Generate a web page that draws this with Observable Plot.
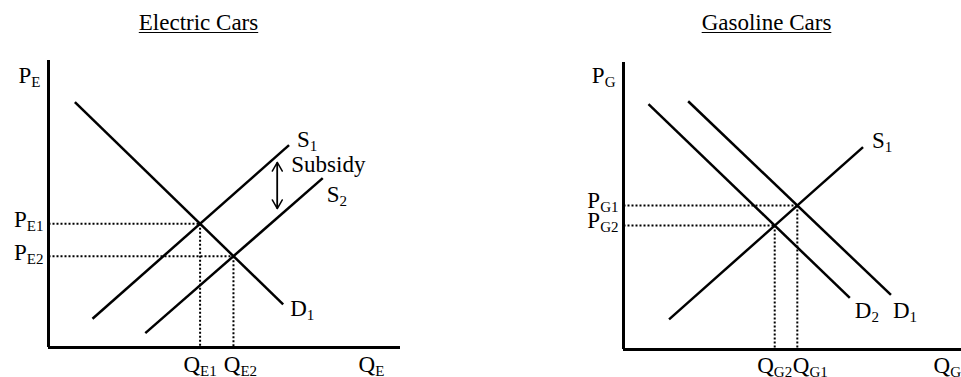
<!DOCTYPE html>
<html>
<head>
<meta charset="utf-8">
<script src="https://cdn.jsdelivr.net/npm/d3@7"></script>
<script src="https://cdn.jsdelivr.net/npm/@observablehq/plot@0.6"></script>
<style>
  html, body { margin: 0; padding: 0; background: #fff; }
  #chart { position: relative; width: 961px; height: 377px; overflow: hidden;
           font-family: "Liberation Serif", "Times New Roman", serif; color: #000; }
  #chart svg { position: absolute; top: 0; }
  .title { position: absolute; top: 11px; font-size: 23px; line-height: 23px;
           white-space: nowrap; transform: translateX(-50%);
           text-decoration: underline; text-decoration-thickness: 1.3px; text-underline-offset: 2px; }
</style>
</head>
<body>
<div id="chart"></div>
<script>
// ---- Electric cars: demand D1, supply before (S1) and after (S2) the subsidy
const electricTitle = "Electric Cars";
const electricCurves = ["D_1", "S_1", "S_2"];
const electricQStart = [0.9, 1.5, 3.3];
const electricPStart = [8.55, 1.0, 0.5];
const electricQEnd = [8.0, 8.2, 9.35];
const electricPEnd = [1.5, 7.05, 5.9];
const electricAxisLabels = ["P_E", "Q_E"];
const electricPriceTicks = ["P_E1", "P_E2"];
const electricQuantityTicks = ["Q_E1", "Q_E2"];

// Subsidy arrow between the two supply curves
const subsidyText = "Subsidy";
const subsidyQ = 7.8;
const subsidyPTop = 6.45;
const subsidyPBottom = 4.84;

// ---- Gasoline cars: demand falls from D1 to D2 along a fixed supply S1
const gasolineTitle = "Gasoline Cars";
const gasolineCurves = ["D_2", "D_1", "S_1"];
const gasolineQStart = [0.85, 2.2, 1.55];
const gasolinePStart = [8.55, 8.65, 1.05];
const gasolineQEnd = [7.7, 9.1, 8.15];
const gasolinePEnd = [1.8, 1.9, 7.05];
const gasolineAxisLabels = ["P_G", "Q_G"];
const gasolinePriceTicks = ["P_G1", "P_G2"];
const gasolineQuantityTicks = ["Q_G1", "Q_G2"];

const FONT = 23;

function segments(names, q1, p1, q2, p2) {
  return names.map((name, i) => ({name, q1: q1[i], p1: p1[i], q2: q2[i], p2: p2[i]}));
}

// Where two straight curves cross (the market equilibrium)
function crossing(a, b) {
  const ma = (a.p2 - a.p1) / (a.q2 - a.q1);
  const mb = (b.p2 - b.p1) / (b.q2 - b.q1);
  const q = (b.p1 - a.p1 + ma * a.q1 - mb * b.q1) / (ma - mb);
  return {q, p: a.p1 + ma * (q - a.q1)};
}

// Turn "P_E1" into P with a subscripted E1
function subscripts(svg) {
  const ns = "http://www.w3.org/2000/svg";
  svg.querySelectorAll("text").forEach((t) => {
    const s = t.textContent;
    const i = s.indexOf("_");
    if (i < 0) return;
    t.textContent = "";
    const base = document.createElementNS(ns, "tspan");
    base.textContent = s.slice(0, i);
    const sub = document.createElementNS(ns, "tspan");
    sub.textContent = s.slice(i + 1);
    sub.setAttribute("font-size", 15);
    sub.setAttribute("dy", 4);
    t.append(base, sub);
  });
  return svg;
}

const curveLabel = (rows, name, dx, dy) =>
  Plot.text(rows.filter((d) => d.name === name), {
    x: "q2", y: "p2", text: "name", textAnchor: "start", dx, dy, fontSize: FONT, fill: "black"
  });

const dotted = {stroke: "black", strokeWidth: 2, strokeDasharray: "2,2"};
const svgStyle = {fontFamily: '"Liberation Serif", "Times New Roman", serif', fontSize: FONT + "px",
                  color: "black", background: "transparent", overflow: "visible"};

function guideMarks(eqs) {
  return [
    Plot.link(eqs, {x1: () => 0, y1: "p", x2: "q", y2: "p", ...dotted}),
    Plot.link(eqs, {x1: "q", y1: "p", x2: "q", y2: () => 0, ...dotted})
  ];
}

const curveMarks = (rows) =>
  Plot.link(rows, {x1: "q1", y1: "p1", x2: "q2", y2: "p2", stroke: "black", strokeWidth: 2.5});

const axisMarks = [
  Plot.ruleX([0], {stroke: "black", strokeWidth: 3}),
  Plot.ruleY([0], {stroke: "black", strokeWidth: 3})
];

// ---- Left panel
const eRows = segments(electricCurves, electricQStart, electricPStart, electricQEnd, electricPEnd);
const eD1 = eRows.find((d) => d.name === "D_1");
const eEq = [crossing(eD1, eRows.find((d) => d.name === "S_1")),
             crossing(eD1, eRows.find((d) => d.name === "S_2"))]
  .map((e, i) => ({...e, pTick: electricPriceTicks[i], qTick: electricQuantityTicks[i]}));

const left = Plot.plot({
  width: 480, height: 377,
  marginLeft: 48, marginRight: 80, marginTop: 60, marginBottom: 30,
  x: {domain: [0, 12], axis: null},
  y: {domain: [0, 10], axis: null},
  style: svgStyle,
  marks: [
    ...guideMarks(eEq),
    curveMarks(eRows),
    Plot.arrow([{q: subsidyQ, a: subsidyPBottom, b: subsidyPTop}],
      {x1: "q", y1: "a", x2: "q", y2: "b", stroke: "black", strokeWidth: 1.5, headLength: 10}),
    Plot.arrow([{q: subsidyQ, a: subsidyPTop, b: subsidyPBottom}],
      {x1: "q", y1: "a", x2: "q", y2: "b", stroke: "black", strokeWidth: 1.5, headLength: 10}),
    ...axisMarks,
    curveLabel(eRows, "S_1", 8, -6),
    curveLabel(eRows, "S_2", 4, 16),
    curveLabel(eRows, "D_1", 7, 4),
    Plot.text([subsidyText], {x: () => subsidyQ, y: () => subsidyPTop, text: (d) => d,
      textAnchor: "start", dx: 14, dy: 2, fontSize: FONT}),
    Plot.text(eEq, {x: () => 0, y: "p", text: "pTick", textAnchor: "end", dx: -5, dy: -4, fontSize: FONT}),
    Plot.text(eEq.slice(0, 1), {x: "q", y: () => 0, text: "qTick", dx: 0, dy: 17, fontSize: FONT}),
    Plot.text(eEq.slice(1), {x: "q", y: () => 0, text: "qTick", dx: 7, dy: 17, fontSize: FONT}),
    Plot.text([electricAxisLabels[0]], {x: () => 0, y: () => 10, text: (d) => d,
      textAnchor: "end", dx: -8, dy: 15, fontSize: FONT}),
    Plot.text([electricAxisLabels[1]], {x: () => 12, y: () => 0, text: (d) => d,
      textAnchor: "start", dx: -42, dy: 17, fontSize: FONT})
  ]
});

// ---- Right panel
const gRows = segments(gasolineCurves, gasolineQStart, gasolinePStart, gasolineQEnd, gasolinePEnd);
const gS1 = gRows.find((d) => d.name === "S_1");
const gEq = [crossing(gRows.find((d) => d.name === "D_1"), gS1),
             crossing(gRows.find((d) => d.name === "D_2"), gS1)]
  .map((e, i) => ({...e, pTick: gasolinePriceTicks[i], qTick: gasolineQuantityTicks[i]}));

const right = Plot.plot({
  width: 481, height: 377,
  marginLeft: 143, marginRight: 0, marginTop: 62, marginBottom: 28,
  x: {domain: [0, 11.5], axis: null},
  y: {domain: [0, 10], axis: null},
  style: svgStyle,
  marks: [
    ...guideMarks(gEq),
    curveMarks(gRows),
    ...axisMarks,
    curveLabel(gRows, "S_1", 9, -7),
    curveLabel(gRows, "D_2", 5, 13),
    curveLabel(gRows, "D_1", 2, 16),
    Plot.text(gEq, {x: () => 0, y: "p", text: "pTick", textAnchor: "end", dx: -5, dy: -5, fontSize: FONT}),
    Plot.text(gEq.slice(0, 1), {x: "q", y: () => 0, text: "qTick", dx: 13, dy: 16, fontSize: FONT}),
    Plot.text(gEq.slice(1), {x: "q", y: () => 0, text: "qTick", dx: 0, dy: 16, fontSize: FONT}),
    Plot.text([gasolineAxisLabels[0]], {x: () => 0, y: () => 10, text: (d) => d,
      textAnchor: "end", dx: -8, dy: 13, fontSize: FONT}),
    Plot.text([gasolineAxisLabels[1]], {x: () => 11.5, y: () => 0, text: (d) => d,
      textAnchor: "start", dx: -28, dy: 16, fontSize: FONT})
  ]
});

const chart = document.getElementById("chart");
left.style.left = "0px";
right.style.left = "480px";
chart.append(subscripts(left), subscripts(right));

for (const [text, x] of [[electricTitle, 198.5], [gasolineTitle, 766.5]]) {
  const div = document.createElement("div");
  div.className = "title";
  div.style.left = x + "px";
  div.textContent = text;
  chart.append(div);
}
</script>
</body>
</html>
